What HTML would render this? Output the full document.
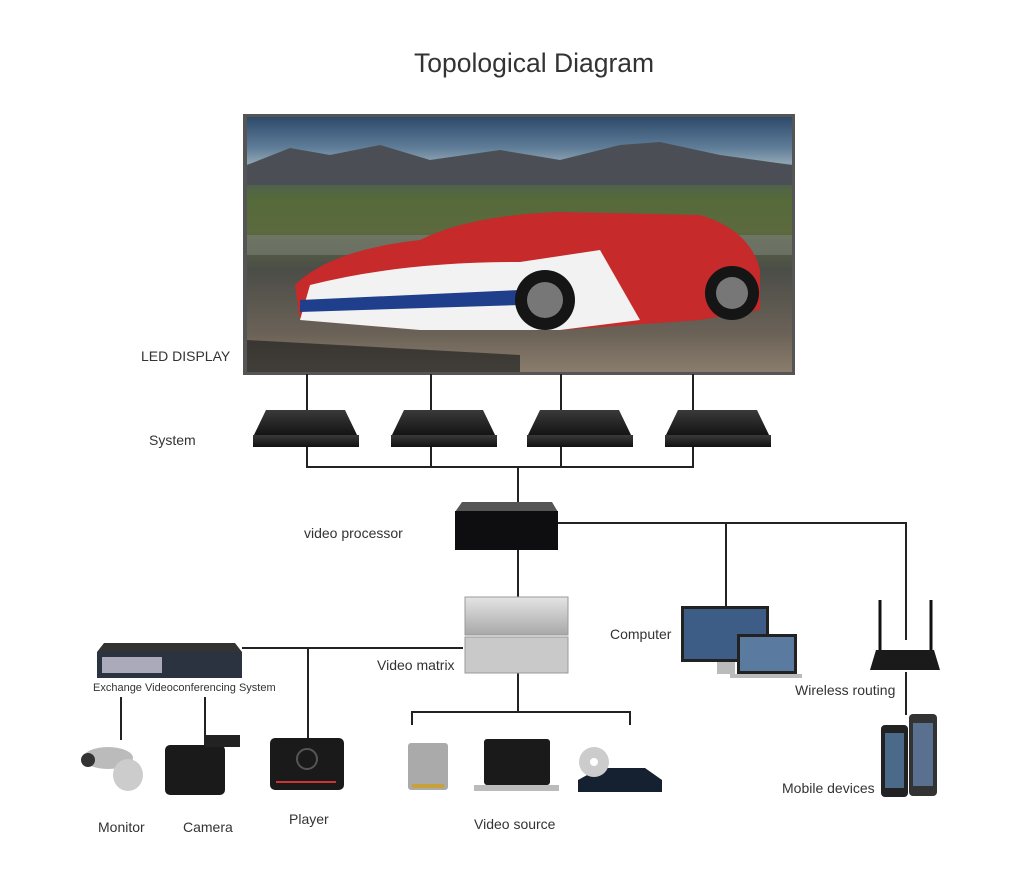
<!DOCTYPE html>
<html><head><meta charset="utf-8"><style>
body{margin:0;background:#fff;width:1024px;height:883px;position:relative;overflow:hidden;font-family:"Liberation Sans",sans-serif;color:#333}
.t{position:absolute;font-size:14px;white-space:nowrap;line-height:1}
</style></head><body>
<svg width="1024" height="883" style="position:absolute;left:0;top:0">
<defs>
<linearGradient id="sky" x1="0" y1="0" x2="0" y2="1">
<stop offset="0" stop-color="#2d4a6b"/><stop offset="0.12" stop-color="#5f7d98"/><stop offset="0.18" stop-color="#8fa4b3"/>
<stop offset="0.22" stop-color="#4a5a5a"/><stop offset="0.32" stop-color="#556a3a"/><stop offset="0.45" stop-color="#5c6a3e"/>
<stop offset="0.6" stop-color="#4b4d48"/><stop offset="0.85" stop-color="#6b6257"/><stop offset="1" stop-color="#8a7d6c"/></linearGradient>
<linearGradient id="box" x1="0" y1="0" x2="0" y2="1"><stop offset="0" stop-color="#3a3a3a"/><stop offset="1" stop-color="#111"/></linearGradient>
<linearGradient id="sil" x1="0" y1="0" x2="0" y2="1"><stop offset="0" stop-color="#e4e4e4"/><stop offset="1" stop-color="#a8a8a8"/></linearGradient>
</defs>
<rect x="243" y="114" width="552" height="261" fill="#555"/>
<rect x="247" y="117" width="545" height="255" fill="url(#sky)"/>
<path d="M247 165 L290 148 L330 155 L380 145 L430 160 L500 150 L560 160 L620 145 L660 142 L720 155 L792 165 L792 185 L247 185Z" fill="#4b4f55"/>
<rect x="247" y="235" width="545" height="20" fill="#7c7e7a" opacity="0.6"/>
<path d="M295 285 Q330 250 420 240 Q470 215 560 212 L700 215 Q750 230 760 270 L760 310 L700 320 L560 330 L420 330 L300 320Z" fill="#c62a2a"/>
<path d="M310 285 Q400 262 520 262 L600 250 L640 320 L560 330 L420 330 L300 320Z" fill="#f2f2f2"/>
<path d="M300 300 L520 290 L520 305 L300 312Z" fill="#1f3f8c"/>
<circle cx="545" cy="300" r="30" fill="#151515"/><circle cx="545" cy="300" r="18" fill="#777"/>
<circle cx="732" cy="293" r="27" fill="#151515"/><circle cx="732" cy="293" r="16" fill="#777"/>
<path d="M247 340 L520 355 L520 372 L247 372Z" fill="#222" opacity="0.7"/>
<g stroke="#222" stroke-width="2" fill="none">
<path d="M307 374V410M431 374V410M561 374V410M693 374V410"/>
<path d="M307 446V467H693V446M431 446V467M561 446V467M518 467V502"/>
<path d="M558 523H906V640M726 523V606"/>
<path d="M518 550V598"/>
<path d="M242 648H463M308 648V738"/>
<path d="M121 697V740M205 697V745"/>
<path d="M518 673V712M412 725V712H630V725"/>
<path d="M906 672V715"/>
</g>
<g fill="url(#box)">
<path d="M266 410H345L358 437H253Z"/><rect x="253" y="435" width="106" height="12"/>
<path d="M404 410H483L496 437H391Z"/><rect x="391" y="435" width="106" height="12"/>
<path d="M540 410H619L632 437H527Z"/><rect x="527" y="435" width="106" height="12"/>
<path d="M678 410H757L770 437H665Z"/><rect x="665" y="435" width="106" height="12"/>
</g>
<path d="M462 502H552L558 512H455Z" fill="#555"/>
<rect x="455" y="511" width="103" height="39" fill="#0e0e10"/>
<rect x="465" y="597" width="103" height="38" fill="url(#sil)" stroke="#999"/>
<rect x="465" y="637" width="103" height="36" fill="#c9c9c9" stroke="#999"/>
<path d="M104 643H235L242 652H97Z" fill="#333"/>
<rect x="97" y="652" width="145" height="26" fill="#2b3240"/>
<rect x="102" y="657" width="60" height="16" fill="#aab"/>
<rect x="681" y="606" width="88" height="56" fill="#222"/>
<rect x="684" y="609" width="82" height="50" fill="#3d5c86"/>
<rect x="717" y="662" width="18" height="12" fill="#bbb"/>
<rect x="737" y="634" width="60" height="40" fill="#222"/>
<rect x="740" y="637" width="54" height="34" fill="#5a7aa0"/>
<rect x="730" y="674" width="72" height="4" fill="#bbb"/>
<path d="M880 600V650M931 600V650" stroke="#111" stroke-width="3"/>
<path d="M876 650H934L940 670H870Z" fill="#1a1a1a"/>
<rect x="881" y="725" width="27" height="72" rx="4" fill="#222"/>
<rect x="909" y="714" width="28" height="82" rx="4" fill="#333"/>
<rect x="885" y="733" width="19" height="55" fill="#4b6a8a"/>
<rect x="913" y="723" width="20" height="63" fill="#5a7090"/>
<ellipse cx="108" cy="758" rx="25" ry="11" fill="#bbb"/><circle cx="88" cy="760" r="7" fill="#333"/>
<ellipse cx="128" cy="775" rx="15" ry="16" fill="#ccc"/>
<rect x="165" y="745" width="60" height="50" rx="5" fill="#1a1a1a"/><rect x="205" y="735" width="35" height="12" fill="#222"/>
<rect x="270" y="738" width="74" height="52" rx="5" fill="#1a1a1a"/>
<circle cx="307" cy="759" r="10" fill="none" stroke="#555" stroke-width="2"/>
<rect x="276" y="781" width="60" height="2" fill="#c33"/>
<rect x="408" y="743" width="40" height="47" rx="3" fill="#aaa"/><rect x="412" y="784" width="32" height="4" fill="#c9a13a"/>
<rect x="484" y="739" width="66" height="46" rx="3" fill="#1a1a1a"/><rect x="474" y="785" width="85" height="6" fill="#bbb"/>
<path d="M578 780L600 768H645L662 780V792H578Z" fill="#152030"/>
<circle cx="594" cy="762" r="15" fill="#ccc"/><circle cx="594" cy="762" r="4" fill="#fff"/>
</svg>
<div class="t" style="left:414px;top:50px;font-size:26.5px;color:#333">Topological Diagram</div>
<div class="t" style="left:141px;top:349px">LED DISPLAY</div>
<div class="t" style="left:149px;top:433px">System</div>
<div class="t" style="left:304px;top:526px">video processor</div>
<div class="t" style="left:610px;top:627px">Computer</div>
<div class="t" style="left:377px;top:658px">Video matrix</div>
<div class="t" style="left:93px;top:683px;font-size:11px">Exchange Videoconferencing System</div>
<div class="t" style="left:795px;top:683px">Wireless routing</div>
<div class="t" style="left:782px;top:781px">Mobile devices</div>
<div class="t" style="left:98px;top:820px">Monitor</div>
<div class="t" style="left:183px;top:820px">Camera</div>
<div class="t" style="left:289px;top:812px">Player</div>
<div class="t" style="left:474px;top:817px">Video source</div>
</body></html>
